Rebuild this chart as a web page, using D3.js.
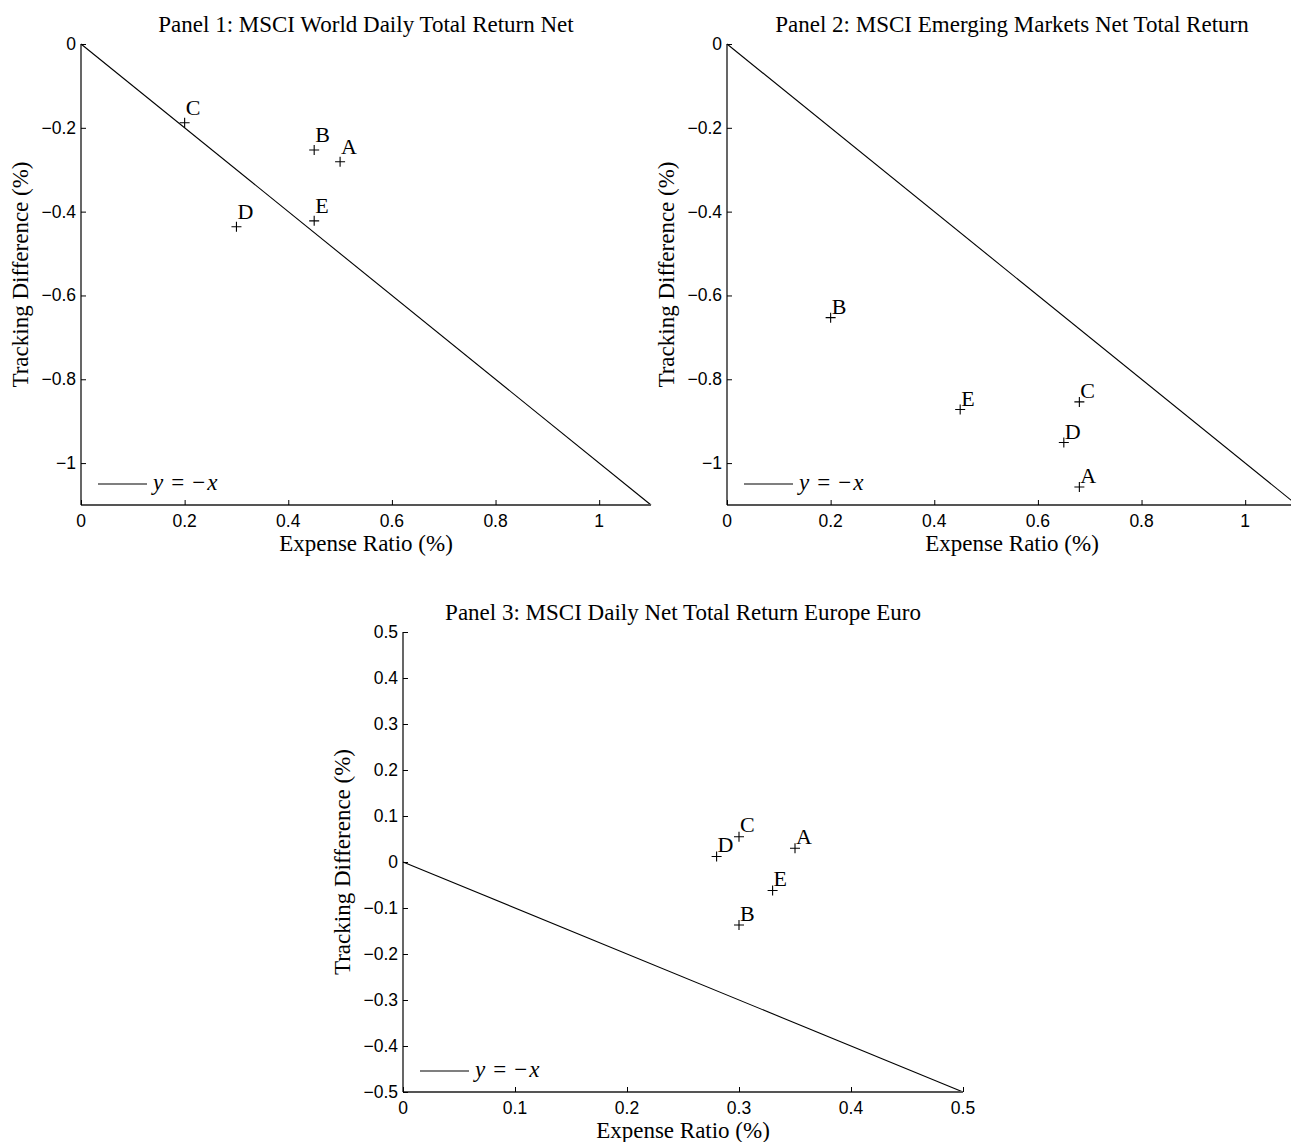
<!DOCTYPE html>
<html>
<head>
<meta charset="utf-8">
<script src="https://cdn.jsdelivr.net/npm/d3@7"></script>
<style>
  html, body { margin: 0; padding: 0; background: #fff; }
  svg { display: block; }
</style>
</head>
<body>
<svg id="chart" width="1291" height="1142"></svg>
<script>
// ---------------- data ----------------
const fundLabels = ["A", "B", "C", "D", "E"];

const p1Title = "Panel 1: MSCI World Daily Total Return Net";
const p1Expense = [0.50, 0.45, 0.20, 0.30, 0.45];
const p1Tracking = [-0.281, -0.253, -0.188, -0.436, -0.422];
const p1XTicks = [0, 0.2, 0.4, 0.6, 0.8, 1];
const p1XTickLabels = ["0", "0.2", "0.4", "0.6", "0.8", "1"];
const p1YTicks = [0, -0.2, -0.4, -0.6, -0.8, -1];
const p1YTickLabels = ["0", "\u22120.2", "\u22120.4", "\u22120.6", "\u22120.8", "\u22121"];

const p2Title = "Panel 2: MSCI Emerging Markets Net Total Return";
const p2Expense = [0.68, 0.20, 0.68, 0.65, 0.45];
const p2Tracking = [-1.057, -0.653, -0.854, -0.951, -0.872];
const p2XTicks = [0, 0.2, 0.4, 0.6, 0.8, 1];
const p2XTickLabels = ["0", "0.2", "0.4", "0.6", "0.8", "1"];
const p2YTicks = [0, -0.2, -0.4, -0.6, -0.8, -1];
const p2YTickLabels = ["0", "\u22120.2", "\u22120.4", "\u22120.6", "\u22120.8", "\u22121"];

const p3Title = "Panel 3: MSCI Daily Net Total Return Europe Euro";
const p3Expense = [0.35, 0.30, 0.30, 0.28, 0.33];
const p3Tracking = [0.030, -0.137, 0.055, 0.012, -0.062];
const p3XTicks = [0, 0.1, 0.2, 0.3, 0.4, 0.5];
const p3XTickLabels = ["0", "0.1", "0.2", "0.3", "0.4", "0.5"];
const p3YTicks = [0.5, 0.4, 0.3, 0.2, 0.1, 0, -0.1, -0.2, -0.3, -0.4, -0.5];
const p3YTickLabels = ["0.5", "0.4", "0.3", "0.2", "0.1", "0", "\u22120.1", "\u22120.2", "\u22120.3", "\u22120.4", "\u22120.5"];

const xAxisLabel = "Expense Ratio (%)";
const yAxisLabel = "Tracking Difference (%)";

// ---------------- layout / style ----------------
const SERIF = "'Liberation Serif', 'Times New Roman', serif";
const SANS = "'Liberation Sans', Arial, sans-serif";
const SERIF_SIZE = 23;
const TICK_SIZE = 17.5;

const panels = [
  { title: p1Title, xs: p1Expense, ys: p1Tracking, xDomain: [0, 1.1], yDomain: [-1.1, 0],
    xTicks: p1XTicks, xTickLabels: p1XTickLabels, yTicks: p1YTicks, yTickLabels: p1YTickLabels,
    box: { left: 81, right: 651, top: 44, bottom: 505 }, labelDy: -8 },
  { title: p2Title, xs: p2Expense, ys: p2Tracking, xDomain: [0, 1.1], yDomain: [-1.1, 0],
    xTicks: p2XTicks, xTickLabels: p2XTickLabels, yTicks: p2YTicks, yTickLabels: p2YTickLabels,
    box: { left: 727, right: 1297, top: 44, bottom: 505 }, labelDy: -3.5 },
  { title: p3Title, xs: p3Expense, ys: p3Tracking, xDomain: [0, 0.5], yDomain: [-0.5, 0.5],
    xTicks: p3XTicks, xTickLabels: p3XTickLabels, yTicks: p3YTicks, yTickLabels: p3YTickLabels,
    box: { left: 403, right: 963, top: 632, bottom: 1092 }, labelDy: -4.5 }
];

const svg = d3.select("#chart");

panels.forEach(p => {
  const b = p.box;
  const x = d3.scaleLinear().domain(p.xDomain).range([b.left, b.right]);
  const y = d3.scaleLinear().domain(p.yDomain).range([b.bottom, b.top]);
  const g = svg.append("g");

  // y = -x reference line
  const lineData = [p.xDomain[0], Math.min(p.xDomain[1], -p.yDomain[0])];
  g.append("path")
    .datum(lineData)
    .attr("d", d3.line().x(d => x(d)).y(d => y(-d)))
    .attr("fill", "none")
    .attr("stroke", "#000")
    .attr("stroke-width", 1.1);

  // x axis (ticks inward)
  const xAxis = d3.axisTop(x)
    .tickValues(p.xTicks)
    .tickSize(5)
    .tickFormat("");
  const xg = g.append("g").attr("transform", `translate(0,${b.bottom})`).call(xAxis);
  xg.select(".domain").attr("stroke", "#555").attr("stroke-width", 2)
    .attr("d", `M${b.left},0H${b.right}`);
  xg.selectAll(".tick line").attr("stroke", "#000");
  g.selectAll(".xtl").data(p.xTicks).enter().append("text")
    .attr("x", d => x(d))
    .attr("y", b.bottom + 22)
    .attr("text-anchor", "middle")
    .attr("font-family", SANS)
    .attr("font-size", TICK_SIZE)
    .attr("fill", "#000")
    .text((d, i) => p.xTickLabels[i]);

  // y axis (ticks inward)
  const yAxis = d3.axisRight(y)
    .tickValues(p.yTicks)
    .tickSize(5)
    .tickFormat("");
  const yg = g.append("g").attr("transform", `translate(${b.left},0)`).call(yAxis);
  yg.select(".domain").attr("stroke", "#000").attr("stroke-width", 1.2)
    .attr("d", `M0,${b.top}V${b.bottom}`);
  yg.selectAll(".tick line").attr("stroke", "#000");
  g.selectAll(".ytl").data(p.yTicks).enter().append("text")
    .attr("x", b.left - 5)
    .attr("y", d => y(d) + 6)
    .attr("text-anchor", "end")
    .attr("font-family", SANS)
    .attr("font-size", TICK_SIZE)
    .attr("fill", "#000")
    .text((d, i) => p.yTickLabels[i]);

  // markers (+)
  const pts = p.xs.map((v, i) => ({ x: v, y: p.ys[i], label: fundLabels[i] }));
  const m = g.selectAll(".pt").data(pts).enter().append("g")
    .attr("transform", d => `translate(${x(d.x)},${y(d.y)})`);
  m.append("path")
    .attr("d", "M-5,0H5M0,-5V5")
    .attr("stroke", "#000")
    .attr("stroke-width", 1.1);
  m.append("text")
    .attr("x", 1)
    .attr("y", p.labelDy)
    .attr("font-family", SERIF)
    .attr("font-size", 22)
    .attr("fill", "#000")
    .text(d => d.label);

  // title
  g.append("text")
    .attr("x", (b.left + b.right) / 2)
    .attr("y", b.top - 12)
    .attr("text-anchor", "middle")
    .attr("font-family", SERIF)
    .attr("font-size", SERIF_SIZE)
    .attr("fill", "#000")
    .text(p.title);

  // x label
  g.append("text")
    .attr("x", (b.left + b.right) / 2)
    .attr("y", b.bottom + 46)
    .attr("text-anchor", "middle")
    .attr("font-family", SERIF)
    .attr("font-size", SERIF_SIZE)
    .attr("fill", "#000")
    .text(xAxisLabel);

  // y label
  g.append("text")
    .attr("transform", `translate(${b.left - 53},${(b.top + b.bottom) / 2}) rotate(-90)`)
    .attr("text-anchor", "middle")
    .attr("font-family", SERIF)
    .attr("font-size", SERIF_SIZE)
    .attr("fill", "#000")
    .text(yAxisLabel);

  // legend
  const ly = b.bottom - 21;
  g.append("line")
    .attr("x1", b.left + 17).attr("x2", b.left + 66)
    .attr("y1", ly).attr("y2", ly)
    .attr("stroke", "#000").attr("stroke-width", 1.1);
  const lt = g.append("text")
    .attr("x", b.left + 72)
    .attr("y", ly + 6)
    .attr("font-family", SERIF)
    .attr("font-size", SERIF_SIZE)
    .attr("fill", "#000");
  lt.append("tspan").attr("font-style", "italic").text("y");
  lt.append("tspan").attr("dx", 8).text("=");
  lt.append("tspan").attr("dx", 8).text("\u2212");
  lt.append("tspan").attr("dx", 2).attr("font-style", "italic").text("x");
});
</script>
</body>
</html>
